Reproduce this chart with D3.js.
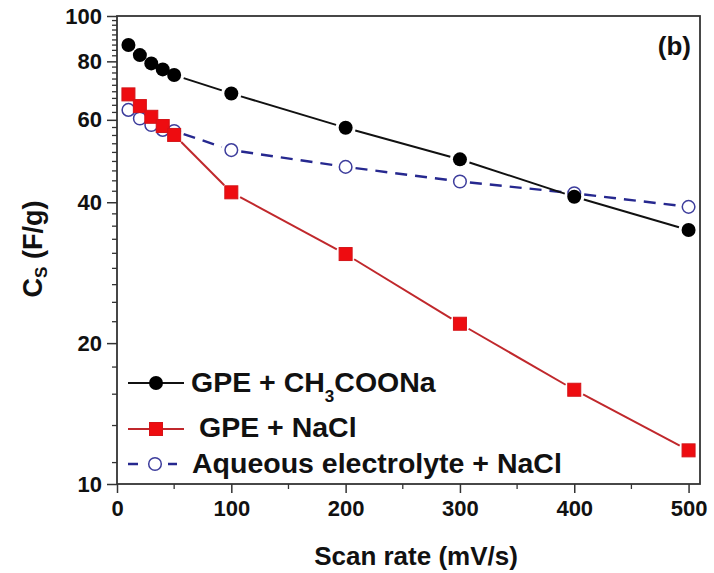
<!DOCTYPE html>
<html lang="en">
  <head>
    <meta charset="UTF-8">
    <title>Cs vs scan rate</title>
    <script src="https://d3js.org/d3.v7.min.js"></script>
    <style>
      body { margin: 0; background: #fff; }
      text { font-family: "Liberation Sans", Arial, sans-serif; font-weight: bold; fill: #111; }
    </style>
  </head>
  <body>
    <svg id="chart" width="714" height="573"></svg>
  <script>
    // data
    var scanRate = [10, 20, 30, 40, 50, 100, 200, 300, 400, 500];
    var csAcetate = [86.7, 82.5, 79.2, 76.9, 74.8, 68.3, 57.7, 49.4, 41.1, 34.9];
    var csNaCl = [68.0, 64.2, 60.9, 58.2, 55.7, 42.0, 31.0, 22.0, 15.9, 11.8];
    var csAqueous = [63.0, 60.4, 58.5, 57.1, 56.8, 51.7, 47.6, 44.3, 41.8, 39.1];

    var xTicks = [0, 100, 200, 300, 400, 500];
    var xMinorTicks = [50, 150, 250, 350, 450];
    var yTicks = [10, 20, 40, 60, 80, 100];
    var yMinorStep = 20 / 9;

    var svg = d3.select("#chart");
    // plot box (note: "top" is reserved on window, so use other names)
    var pLeft = 117, pRight = 700, pTop = 16, pBottom = 484;

    var x = d3.scaleLinear().domain([0, 510]).range([pLeft, pRight]);
    var y = d3.scaleLog().domain([10, 100]).range([pBottom, pTop]);

    // minor y ticks (Origin puts them every 20/9 units)
    var yMinor = d3.range(5, 45).map(function(n) { return n * yMinorStep; })
      .filter(function(v) { return yTicks.every(function(t) { return Math.abs(t - v) > 0.01; }); });

    // minor ticks, drawn by hand
    svg.append("g").selectAll("line")
      .data(yMinor).enter().append("line")
      .attr("x1", pLeft - 5).attr("x2", pLeft)
      .attr("y1", function(d) { return y(d); })
      .attr("y2", function(d) { return y(d); })
      .attr("stroke", "#333").attr("stroke-width", 1.3);

    svg.append("g").selectAll("line")
      .data(xMinorTicks).enter().append("line")
      .attr("x1", function(d) { return x(d); })
      .attr("x2", function(d) { return x(d); })
      .attr("y1", pBottom).attr("y2", pBottom + 5)
      .attr("stroke", "#333").attr("stroke-width", 1.3);

    // y axis
    var yAx = svg.append("g")
      .attr("transform", "translate(" + pLeft + ",0)")
      .call(d3.axisLeft(y).tickValues(yTicks).tickSize(10).tickPadding(5).tickFormat(d3.format("d")));
    yAx.select(".domain").remove();
    yAx.selectAll("line").attr("stroke", "#333").attr("stroke-width", 1.5);
    yAx.selectAll("text").attr("font-size", "22px").attr("fill", "#111").attr("font-family", null);

    // x axis
    var xAx = svg.append("g")
      .attr("transform", "translate(0," + pBottom + ")")
      .call(d3.axisBottom(x).tickValues(xTicks).tickSize(9).tickPadding(7));
    xAx.select(".domain").remove();
    xAx.selectAll("line").attr("stroke", "#333").attr("stroke-width", 1.5);
    xAx.selectAll("text").attr("font-size", "22px").attr("fill", "#111").attr("font-family", null);

    // frame
    svg.append("rect")
      .attr("x", pLeft).attr("y", pTop)
      .attr("width", pRight - pLeft).attr("height", pBottom - pTop)
      .attr("fill", "none").attr("stroke", "#333").attr("stroke-width", 1.8);

    // line segments with a small gap at each marker
    function gapSegments(values, gap) {
      var segs = [];
      for (var i = 0; i < values.length - 1; i++) {
        var x0 = x(scanRate[i]), y0 = y(values[i]);
        var x1 = x(scanRate[i + 1]), y1 = y(values[i + 1]);
        var len = Math.hypot(x1 - x0, y1 - y0);
        if (len <= 2 * gap + 1) continue;
        var ux = (x1 - x0) / len, uy = (y1 - y0) / len;
        segs.push([x0 + ux * gap, y0 + uy * gap, x1 - ux * gap, y1 - uy * gap]);
      }
      return segs;
    }

    function drawSegments(values, color, width, dash) {
      svg.append("g").selectAll("line")
        .data(gapSegments(values, 10))
        .enter().append("line")
        .attr("x1", function(d) { return d[0]; })
        .attr("y1", function(d) { return d[1]; })
        .attr("x2", function(d) { return d[2]; })
        .attr("y2", function(d) { return d[3]; })
        .attr("stroke", color)
        .attr("stroke-width", width)
        .attr("stroke-dasharray", dash);
    }

    // aqueous electrolyte (blue dashed, open circles)
    drawSegments(csAqueous, "#26288f", 2.4, "12,8");
    svg.append("g").selectAll("circle")
      .data(csAqueous).enter().append("circle")
      .attr("cx", function(d, i) { return x(scanRate[i]); })
      .attr("cy", function(d) { return y(d); })
      .attr("r", 6.3)
      .attr("fill", "#fff").attr("stroke", "#3d3d9c").attr("stroke-width", 1.5);

    // GPE + NaCl (red squares)
    drawSegments(csNaCl, "#c0282c", 2, null);
    svg.append("g").selectAll("rect")
      .data(csNaCl).enter().append("rect")
      .attr("x", function(d, i) { return x(scanRate[i]) - 6.5; })
      .attr("y", function(d) { return y(d) - 6.5; })
      .attr("width", 13).attr("height", 13)
      .attr("fill", "#ee0c10").attr("stroke", "#d41418").attr("stroke-width", 1);

    // GPE + CH3COONa (black circles)
    drawSegments(csAcetate, "#111", 2, null);
    svg.append("g").selectAll("circle")
      .data(csAcetate).enter().append("circle")
      .attr("cx", function(d, i) { return x(scanRate[i]); })
      .attr("cy", function(d) { return y(d); })
      .attr("r", 7)
      .attr("fill", "#000");

    // legend
    var legend = svg.append("g");
    var lg1 = legend.append("g");
    lg1.append("line").attr("x1", 128).attr("x2", 184).attr("y1", 383).attr("y2", 383)
      .attr("stroke", "#111").attr("stroke-width", 2);
    lg1.append("circle").attr("cx", 156).attr("cy", 383).attr("r", 7).attr("fill", "#000");
    var t1 = lg1.append("text").attr("x", 191).attr("y", 392).attr("font-size", "28.5px");
    t1.append("tspan").text("GPE + CH");
    t1.append("tspan").attr("font-size", "17px").attr("dy", 10).text("3");
    t1.append("tspan").attr("dy", -10).text("COONa");

    var lg2 = legend.append("g");
    lg2.append("line").attr("x1", 128).attr("x2", 184).attr("y1", 429).attr("y2", 429)
      .attr("stroke", "#c0282c").attr("stroke-width", 2);
    lg2.append("rect").attr("x", 149.5).attr("y", 422.5).attr("width", 13).attr("height", 13)
      .attr("fill", "#ee0c10").attr("stroke", "#d41418").attr("stroke-width", 1);
    lg2.append("text").attr("x", 199).attr("y", 437).attr("font-size", "28.5px").text("GPE + NaCl");

    var lg3 = legend.append("g");
    lg3.append("line").attr("x1", 128).attr("x2", 177).attr("y1", 464).attr("y2", 464)
      .attr("stroke", "#26288f").attr("stroke-width", 2.4).attr("stroke-dasharray", "10,30");
    lg3.append("circle").attr("cx", 155).attr("cy", 464).attr("r", 6.3)
      .attr("fill", "#fff").attr("stroke", "#3d3d9c").attr("stroke-width", 1.5);
    lg3.append("text").attr("x", 192).attr("y", 473).attr("font-size", "28.5px").text("Aqueous electrolyte + NaCl");

    // panel label
    svg.append("text").attr("x", 691).attr("y", 55).attr("text-anchor", "end")
      .attr("font-size", "26px").text("(b)");

    // axis titles
    svg.append("text").attr("x", 416).attr("y", 565).attr("text-anchor", "middle")
      .attr("font-size", "26px").text("Scan rate (mV/s)");

    var yt = svg.append("text")
      .attr("transform", "translate(42,249) rotate(-90)")
      .attr("text-anchor", "middle").attr("font-size", "27px");
    yt.append("tspan").text("C");
    yt.append("tspan").attr("font-size", "17px").attr("dy", 5).text("S");
    yt.append("tspan").attr("dy", -5).text(" (F/g)");
  </script>
  </body>
</html>
